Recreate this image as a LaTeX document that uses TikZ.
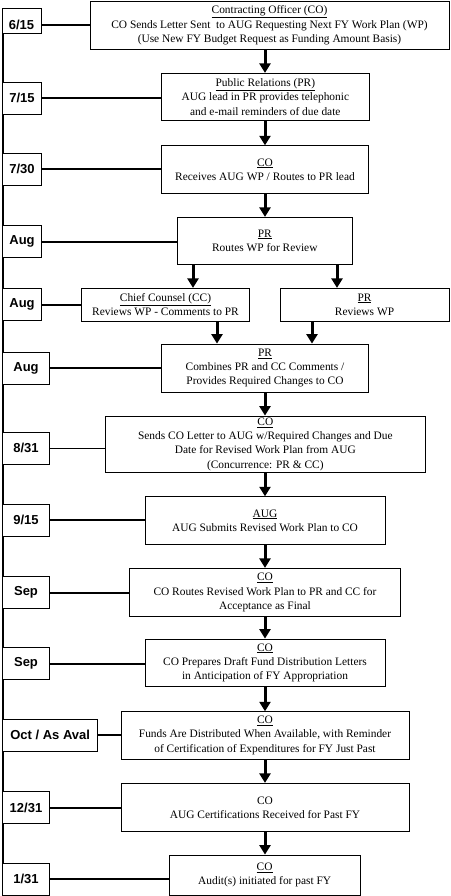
\documentclass[tikz,border=0pt]{standalone}
\usepackage{fontspec}
\setmainfont{Liberation Serif}
\newfontfamily\datefont{Liberation Sans}
\usetikzlibrary{arrows.meta}
\tikzset{
  box/.style={draw, line width=0.8pt, fill=white, inner sep=0pt, align=center,
    font=\fontsize{11.4}{14.3}\selectfont},
  datebox/.style={draw, line width=0.8pt, fill=white, inner sep=0pt,
    minimum height=32pt, font=\datefont\bfseries\fontsize{13}{14}\selectfont},
  datetext/.style={inner sep=0pt, font=\datefont\bfseries\fontsize{13}{14}\selectfont},
  link/.style={line width=2pt},
  thinlink/.style={line width=0.9pt},
  arr/.style={line width=3pt, -{Triangle[width=11pt,length=9.5pt]}},
  spine/.style={line width=2pt}
}
\begin{document}
\begin{tikzpicture}[x=1pt,y=-1pt]
\useasboundingbox (0,0) rectangle (450,896);
\coordinate (sp) at (265,0);

% left time line (drawn behind the date boxes)
\coordinate (ltop) at (2.7,33.3);
\coordinate (lbot) at (2.7,863.3);
\draw[spine] (ltop) -- (lbot);

% main boxes
\node[box, minimum width=359pt, minimum height=47.3pt] (b1) at (269.5,25.35)
  {\underline{Contracting Officer (CO)}\\CO Sends Letter Sent~ to AUG Requesting Next FY Work Plan (WP)\\(Use New FY Budget Request as Funding Amount Basis)};
\node[box, minimum width=207.3pt, minimum height=47.4pt] (b2) at (265.35,97)
  {\underline{Public Relations (PR)}\\AUG lead in PR provides telephonic\\and e-mail reminders of due date};
\node[box, minimum width=206.6pt, minimum height=47.6pt] (b3) at (265,169.5)
  {\underline{CO}\\Receives AUG WP / Routes to PR lead};
\node[box, minimum width=175pt, minimum height=47pt] (b4) at (264.8,240.8)
  {\underline{PR}\\Routes WP for Review};
\node[box, minimum width=167.6pt, minimum height=32.7pt] (b5) at (165.5,304.65)
  {\underline{Chief Counsel (CC)}\\Reviews WP - Comments to PR};
\node[box, minimum width=169pt, minimum height=32.7pt] (b5r) at (364.5,304.65)
  {\underline{PR}\\Reviews WP};
\node[box, minimum width=206.6pt, minimum height=48.3pt] (b6) at (265,368.15)
  {\underline{PR}\\Combines PR and CC Comments /\\Provides Required Changes to CO};
\node[box, minimum width=319.3pt, minimum height=56.3pt] (b7) at (265.35,444.15)
  {\underline{CO}\\Sends CO Letter to AUG w/Required Changes and Due\\Date for Revised Work Plan from AUG\\(Concurrence: PR \& CC)};
\node[box, minimum width=240pt, minimum height=47.6pt] (b8) at (265,520.5)
  {\underline{AUG}\\AUG Submits Revised Work Plan to CO};
\node[box, minimum width=271.4pt, minimum height=48.4pt] (b9) at (265,592.5)
  {\underline{CO}\\CO Routes Revised Work Plan to PR and CC for\\Acceptance as Final};
\node[box, minimum width=240pt, minimum height=47.7pt] (b10) at (265,662.85)
  {\underline{CO}\\CO Prepares Draft Fund Distribution Letters\\in Anticipation of FY Appropriation};
\node[box, minimum width=288pt, minimum height=47.3pt] (b11) at (265,735.35)
  {\underline{CO}\\Funds Are Distributed When Available, with Reminder\\of Certification of Expenditures for FY Just Past};
\node[box, minimum width=288pt, minimum height=48.4pt] (b12) at (265,807.5)
  {CO\\AUG Certifications Received for Past FY};
\node[box, minimum width=190.7pt, minimum height=40pt] (b13) at (264.65,875)
  {\underline{CO}\\Audit(s) initiated for past FY};

% date boxes
\node[draw, line width=0.8pt, fill=white, inner sep=0pt, minimum width=38.6pt, minimum height=24.8pt] (d1) at (22,20.9) {};
\node[datetext] (d1t) at (21.5,25) {6/15};
\node[datebox, minimum width=38.6pt] (d2) at (22,98.35) {7/15};
\node[datebox, minimum width=38.6pt] (d3) at (22,169.15) {7/30};
\node[datebox, minimum width=38.6pt] (d4) at (22,241.5) {Aug};
\node[datebox, minimum width=38.6pt] (d5) at (22,304.65) {Aug};
\node[datebox, minimum width=46.6pt] (d6) at (26,368.15) {Aug};
\node[datebox, minimum width=46.6pt] (d7) at (26,448.35) {8/31};
\node[datebox, minimum width=46.6pt] (d8) at (26,520) {9/15};
\node[datebox, minimum width=46.6pt] (d9) at (26,592.5) {Sep};
\node[datebox, minimum width=46.6pt] (d10) at (26,663.5) {Sep};
\node[datebox, minimum width=95pt] (d11) at (50.2,735.35) {Oct / As Aval};
\node[datebox, minimum width=46.6pt] (d12) at (26,807.5) {12/31};
\node[datebox, minimum width=46.6pt] (d13) at (26,879.4) {1/31};

% connectors date -> box
\draw[link] (d1.east |- d1t) -- (b1.west |- d1t);
\draw[link] (d2.east) -- (d2.east -| b2.west);
\draw[link] (d3.east) -- (d3.east -| b3.west);
\draw[link] (d4.east) -- (d4.east -| b4.west);
\draw[link] (d5.east) -- (b5.west);
\draw[link] (d6.east) -- (d6.east -| b6.west);
\draw[thinlink] (d7.east) -- (d7.east -| b7.west);
\draw[link] (d8.east) -- (d8.east -| b8.west);
\draw[link] (d9.east) -- (d9.east -| b9.west);
\draw[link] (d10.east) -- (d10.east -| b10.west);
\draw[link] (d11.east) -- (d11.east -| b11.west);
\draw[link] (d12.east) -- (d12.east -| b12.west);
\draw[link] (d13.east) -- (d13.east -| b13.west);

% flow arrows
\draw[arr] (b1.south -| sp) -- (b2.north -| sp);
\draw[arr] (b2.south -| sp) -- (b3.north -| sp);
\draw[arr] (b3.south -| sp) -- (b4.north -| sp);
\coordinate (s4l) at (193,0);
\coordinate (s4r) at (337,0);
\draw[arr] (b4.south -| s4l) -- (b5.north -| s4l);
\draw[arr] (b4.south -| s4r) -- (b5r.north -| s4r);
\coordinate (s5l) at (217,0);
\coordinate (s5r) at (312,0);
\draw[arr] (b5.south -| s5l) -- (b6.north -| s5l);
\draw[arr] (b5r.south -| s5r) -- (b6.north -| s5r);
\draw[arr] (b6.south -| sp) -- (b7.north -| sp);
\draw[arr] (b7.south -| sp) -- (b8.north -| sp);
\draw[arr] (b8.south -| sp) -- (b9.north -| sp);
\draw[arr] (b9.south -| sp) -- (b10.north -| sp);
\draw[arr] (b10.south -| sp) -- (b11.north -| sp);
\draw[arr] (b11.south -| sp) -- (b12.north -| sp);
\draw[arr] (b12.south -| sp) -- (b13.north -| sp);
\end{tikzpicture}
\end{document}
